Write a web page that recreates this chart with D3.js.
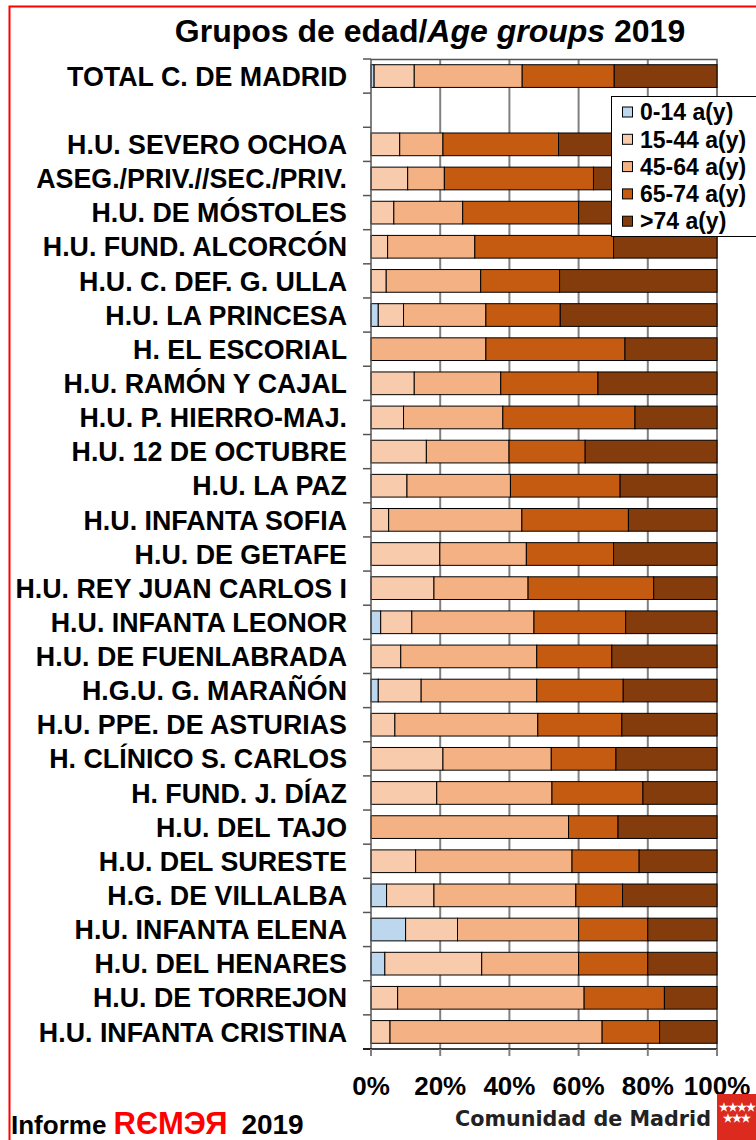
<!DOCTYPE html>
<html lang="es">
<head>
    <meta charset="UTF-8">
    <script src="https://d3js.org/d3.v7.min.js"></script>
    <title>Grupos de edad 2019</title>
    <style>
        body { margin: 0; background: #fff; }
        text { font-family: "Liberation Sans", Arial, sans-serif; font-weight: bold; }
    </style>
</head>
<body>

<script>
    // categories, top to bottom ("" is the empty row under the total)
    const categories = [
        "TOTAL C. DE MADRID", "",
        "H.U. SEVERO OCHOA", "ASEG./PRIV.//SEC./PRIV.", "H.U. DE MÓSTOLES", "H.U. FUND. ALCORCÓN",
        "H.U. C. DEF. G. ULLA", "H.U. LA PRINCESA", "H. EL ESCORIAL", "H.U. RAMÓN Y CAJAL",
        "H.U. P. HIERRO-MAJ.", "H.U. 12 DE OCTUBRE", "H.U. LA PAZ", "H.U. INFANTA SOFIA",
        "H.U. DE GETAFE", "H.U. REY JUAN CARLOS I", "H.U. INFANTA LEONOR", "H.U. DE FUENLABRADA",
        "H.G.U. G. MARAÑÓN", "H.U. PPE. DE ASTURIAS", "H. CLÍNICO S. CARLOS", "H. FUND. J. DÍAZ",
        "H.U. DEL TAJO", "H.U. DEL SURESTE", "H.G. DE VILLALBA", "H.U. INFANTA ELENA",
        "H.U. DEL HENARES", "H.U. DE TORREJON", "H.U. INFANTA CRISTINA"
    ];

    const groups = ["0-14 a(y)", "15-44 a(y)", "45-64 a(y)", "65-74 a(y)", ">74 a(y)"];
    const colors = ["#BDD7EE", "#F8CBAD", "#F4B183", "#C55A11", "#843C0C"];

    // percentages per group (same order as categories, null for the empty row)
    const age0_14  = [0.9, null, 0, 0, 0, 0, 0, 2.1, 0, 0, 0, 0, 0, 0, 0, 0, 2.8, 0, 2.1, 0, 0, 0, 0, 0, 4.5, 10, 4, 0, 0];
    const age15_44 = [11.6, null, 8.3, 10.6, 6.6, 4.8, 4.4, 7.3, 0, 12.5, 9.4, 16.0, 10.4, 5.1, 19.9, 18.2, 9.0, 8.6, 12.4, 6.9, 20.8, 19.0, 0, 12.9, 13.7, 15, 28, 7.7, 5.5];
    const age45_64 = [31.2, null, 12.5, 10.6, 19.9, 25.2, 27.3, 23.8, 33.2, 25.0, 28.7, 23.9, 29.9, 38.5, 25.0, 27.2, 35.3, 39.3, 33.4, 41.3, 31.3, 33.3, 57.1, 45.2, 41.0, 35, 28, 53.9, 61.3];
    const age65_74 = [26.6, null, 33.4, 43.1, 33.5, 40.1, 22.8, 21.5, 40.2, 28.1, 38.2, 22.0, 31.7, 30.8, 25.2, 36.3, 26.5, 21.7, 25.0, 24.3, 18.7, 26.3, 14.3, 19.4, 13.5, 20, 20, 23.2, 16.6];
    const age75    = [29.7, null, 45.8, 35.7, 40.0, 29.9, 45.5, 45.3, 26.6, 34.4, 23.7, 38.1, 28.0, 25.6, 29.9, 18.3, 26.4, 30.4, 27.1, 27.5, 29.2, 21.4, 28.6, 22.5, 27.3, 20, 20, 15.2, 16.6];

    const xTicks = [0, 20, 40, 60, 80, 100];

    const series = [age0_14, age15_44, age45_64, age65_74, age75];
    const rows = categories.map((c, i) => {
        const r = { name: c, key: c === "" ? "__blank" : c };
        groups.forEach((g, j) => r[g] = series[j][i] || 0);
        r.blank = c === "";
        return r;
    });

    const width = 756, height = 1140;
    const margin = { top: 59, left: 371, right: 39, bottom: 91 };
    const plotW = width - margin.left - margin.right;
    const plotH = height - margin.top - margin.bottom;

    const svg = d3.select("body").append("svg")
        .attr("width", width)
        .attr("height", height);

    // red page frame
    svg.append("path")
        .attr("d", "M9.5," + height + " V6.5 H" + (width + 2))
        .attr("fill", "none")
        .attr("stroke", "#FF0000")
        .attr("stroke-width", 2);

    // title
    const title = svg.append("text")
        .attr("x", 430)
        .attr("y", 42)
        .attr("text-anchor", "middle")
        .style("font-size", "32px");
    title.append("tspan").text("Grupos de edad/");
    title.append("tspan").style("font-style", "italic").text("Age groups");
    title.append("tspan").text(" 2019");

    const g = svg.append("g")
        .attr("transform", "translate(" + margin.left + "," + margin.top + ")");

    const x = d3.scaleLinear().domain([0, 100]).range([0, plotW]);
    const y = d3.scaleBand()
        .domain(rows.map(d => d.key))
        .range([0, plotH])
        .paddingInner(0.335)
        .paddingOuter(0.1675);

    // gridlines
    g.append("g")
        .selectAll("line")
        .data(xTicks.slice(1, -1))
        .enter().append("line")
        .attr("x1", d => x(d)).attr("x2", d => x(d))
        .attr("y1", 0).attr("y2", plotH)
        .attr("stroke", "#808080")
        .attr("stroke-width", 2);

    // frame top and right
    g.append("path")
        .attr("d", "M0,0.5 H" + plotW + " V" + plotH)
        .attr("fill", "none")
        .attr("stroke", "#555")
        .attr("stroke-width", 1.5);

    // stacked bars
    const stacked = d3.stack().keys(groups)(rows.filter(d => !d.blank));
    g.append("g")
        .selectAll("g")
        .data(stacked)
        .enter().append("g")
        .attr("fill", (d, i) => colors[i])
        .selectAll("rect")
        .data(d => d.filter(p => p[1] - p[0] > 0))
        .enter().append("rect")
        .attr("x", d => x(d[0]))
        .attr("y", d => y(d.data.key))
        .attr("width", d => x(d[1]) - x(d[0]))
        .attr("height", y.bandwidth())
        .attr("stroke", "#000")
        .attr("stroke-width", 1);

    // y axis: ticks between the categories
    const step = y.step();
    const yAxis = g.append("g");
    yAxis.append("line")
        .attr("x1", 0).attr("x2", 0)
        .attr("y1", 0).attr("y2", plotH)
        .attr("stroke", "#555")
        .attr("stroke-width", 1.5);
    yAxis.selectAll(".tk")
        .data(d3.range(categories.length + 1))
        .enter().append("line")
        .attr("x1", -8).attr("x2", 0)
        .attr("y1", d => d * step).attr("y2", d => d * step)
        .attr("stroke", "#555")
        .attr("stroke-width", 1.5);
    yAxis.selectAll(".lbl")
        .data(rows)
        .enter().append("text")
        .attr("x", -24)
        .attr("y", d => y(d.key) + y.bandwidth() / 2)
        .attr("dy", "0.36em")
        .attr("text-anchor", "end")
        .style("font-size", "26.8px")
        .text(d => d.name);

    // x axis
    const xAxis = g.append("g").attr("transform", "translate(0," + plotH + ")");
    xAxis.append("line")
        .attr("x1", -8).attr("x2", plotW)
        .attr("stroke", "#000")
        .attr("stroke-width", 1.5);
    xAxis.selectAll(".tk")
        .data(xTicks)
        .enter().append("line")
        .attr("x1", d => x(d)).attr("x2", d => x(d))
        .attr("y1", 0).attr("y2", 7)
        .attr("stroke", "#808080")
        .attr("stroke-width", 2);
    xAxis.selectAll(".lbl")
        .data(xTicks)
        .enter().append("text")
        .attr("x", d => x(d))
        .attr("y", 46)
        .attr("text-anchor", "middle")
        .style("font-size", "26px")
        .text(d => d + "%");

    // legend
    const legend = svg.append("g").attr("transform", "translate(611,96)");
    legend.append("rect")
        .attr("x", 0.5).attr("y", 0.5)
        .attr("width", 160).attr("height", 140)
        .attr("fill", "#fff")
        .attr("stroke", "#000");
    const item = legend.selectAll(".item")
        .data(groups)
        .enter().append("g")
        .attr("transform", (d, i) => "translate(11," + (16 + i * 27.3) + ")");
    item.append("rect")
        .attr("x", 0.5).attr("y", -5)
        .attr("width", 10).attr("height", 10)
        .attr("fill", (d, i) => colors[i])
        .attr("stroke", "#000");
    item.append("text")
        .attr("x", 18)
        .attr("dy", "0.36em")
        .style("font-size", "23px")
        .text(d => d);

    // footer
    const foot = svg.append("text")
        .attr("x", 11)
        .attr("y", 1134)
        .style("font-size", "26px");
    foot.append("tspan").text("Informe ");
    foot.append("tspan").attr("fill", "#FF0000").style("font-size", "31px").text("RЄMЭЯ");
    foot.append("tspan").attr("dx", 14).style("font-size", "28px").text("2019");

    svg.append("text")
        .attr("x", 711)
        .attr("y", 1126)
        .attr("text-anchor", "end")
        .attr("fill", "#222")
        .attr("textLength", 256)
        .attr("lengthAdjust", "spacingAndGlyphs")
        .style("font-family", "'DejaVu Sans', sans-serif")
        .style("font-size", "21px")
        .text("Comunidad de Madrid");

    const logo = svg.append("g").attr("transform", "translate(717,1094)");
    logo.append("rect")
        .attr("width", 45).attr("height", 50)
        .attr("fill", "#DC2A1F");
    logo.selectAll("text")
        .data([[7, 17], [16, 17], [25, 17], [34, 17], [11, 28], [20, 28], [29, 28]])
        .enter().append("text")
        .attr("x", d => d[0]).attr("y", d => d[1])
        .attr("text-anchor", "middle")
        .attr("fill", "#fff")
        .style("font-size", "11px")
        .text("★");
</script>

</body>
</html>
